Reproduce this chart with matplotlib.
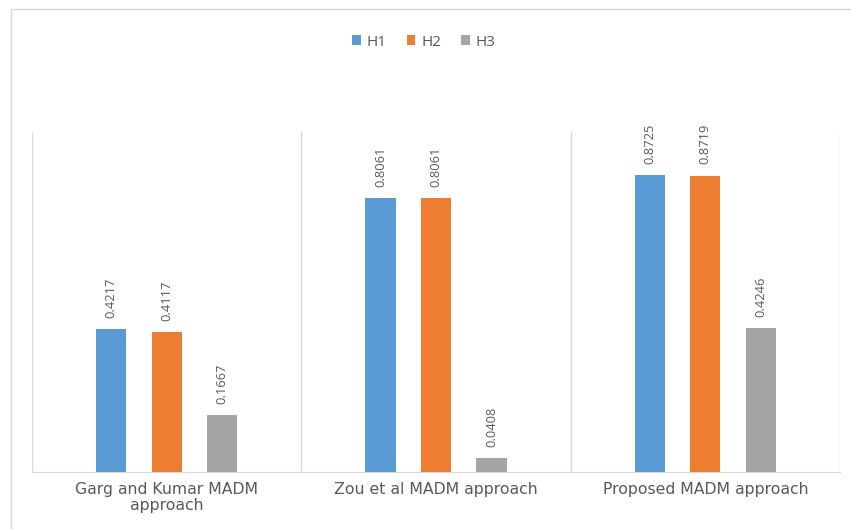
import numpy as np
import matplotlib.pyplot as plt
from matplotlib.patches import Rectangle

# Chart data
categories = ['Garg and Kumar MADM\napproach', 'Zou et al MADM approach', 'Proposed MADM approach']
series_names = ['H1', 'H2', 'H3']
h1 = [0.4217, 0.8061, 0.8725]
h2 = [0.4117, 0.8061, 0.8719]
h3 = [0.1667, 0.0408, 0.4246]
colors = ['#5B9BD5', '#ED7D31', '#A5A5A5']

plt.rcParams['font.family'] = ['Open Sans', 'DejaVu Sans']

fig = plt.figure(figsize=(8.51, 5.29), dpi=100)
ax = fig.add_axes([32 / 851, 57 / 529, 808 / 851, 340 / 529])

# outer chart border (left and top visible in the reference)
fig.patches.append(Rectangle((11 / 851, -0.1), 2, 0.1 + (529 - 9) / 529,
                             transform=fig.transFigure, fill=False,
                             edgecolor='#d9d9d9', linewidth=1))

x = np.arange(len(categories))
width = 0.112
step = 0.206
label_color = '#595959'

for i, (name, vals) in enumerate(zip(series_names, [h1, h2, h3])):
    pos = x + (i - 1) * step
    bars = ax.bar(pos, vals, width, color=colors[i], label=name, zorder=3)
    for b, v in zip(bars, vals):
        ax.annotate(f'{v:.4f}', (b.get_x() + b.get_width() / 2, v),
                    xytext=(0, 8), textcoords='offset points',
                    rotation=90, ha='center', va='bottom',
                    fontsize=9.3, color=label_color)

ax.set_xlim(-0.5, len(categories) - 0.5)
ax.set_ylim(0, 1.0)
ax.set_yticks([])
ax.set_xticks(x)
ax.set_xticklabels(categories, fontsize=11.3, color=label_color,
                   family='DejaVu Sans', linespacing=1.1)
ax.tick_params(axis='x', length=0, pad=7)

# category separators
for b in np.arange(-0.5, len(categories), 1.0):
    ax.axvline(b, color='#d9d9d9', linewidth=1, zorder=1)

for s in ['top', 'left', 'right']:
    ax.spines[s].set_visible(False)
ax.spines['bottom'].set_color('#d9d9d9')

fig.legend(loc='center', bbox_to_anchor=(424 / 851, 1 - 42 / 529), ncol=3,
           frameon=False, fontsize=11, handlelength=0.55, handleheight=0.55,
           handletextpad=0.4, columnspacing=1.3, labelcolor=label_color)

fig.savefig('out.png', dpi=100)
